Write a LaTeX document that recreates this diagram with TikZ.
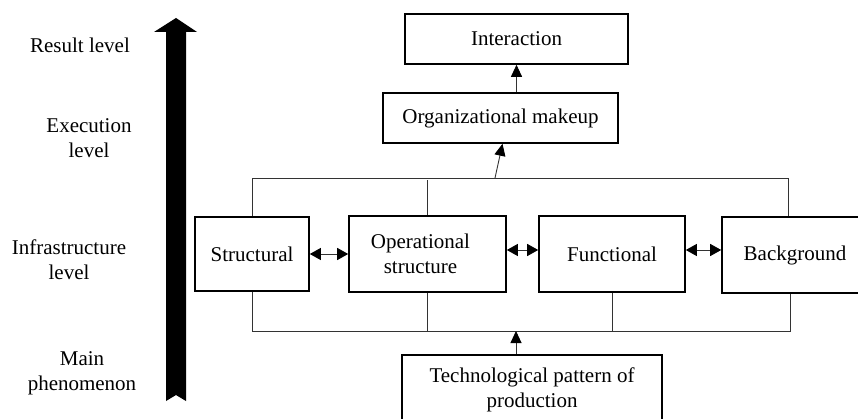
\documentclass[tikz,border=0pt]{standalone}
\usepackage{fontspec}
\setmainfont{Liberation Serif}
\usetikzlibrary{arrows.meta,calc}
\begin{document}
\begin{tikzpicture}[x=1pt,y=-1pt,
  txt/.style={font=\fontsize{21}{25}\selectfont, align=center, inner sep=0pt},
  box/.style={txt, draw=black, line width=1.6pt, rectangle},
  conn/.style={draw=black!80, line width=0.9pt},
  arr/.style={conn, -{Triangle[length=12pt,width=11pt,color=black]}},
  darr/.style={conn, {Triangle[length=11pt,width=12pt,color=black]}-{Triangle[length=11pt,width=12pt,color=black]}}]
\useasboundingbox (0,0) rectangle (858,419);
\clip (0,0) rectangle (858,419);
% level arrow
\fill[black] (166,401) -- (166,32) -- (154,32) -- (176,18) -- (197,32) -- (186,32) -- (186,401) -- (176,395) -- cycle;
% level labels
\node[txt] (l1) at (80,45) {Result level};
\node[txt] (l2) at (89,138) {Execution\\level};
\node[txt] (l3) at (69,260) {Infrastructure\\level};
\node[txt] (l4) at (82,373) {Main\\phenomenon};
% boxes
\node[box, minimum width=223, minimum height=50] (inter) at (516.5,39) {Interaction};
\node[box, minimum width=235, minimum height=50] (org) at (500.5,118) {Organizational makeup};
\node[box, minimum width=114, minimum height=74] (s) at (252,254) {Structural};
\node[box, minimum width=157, minimum height=76] (op) at (427.5,254) {Operational\hspace*{14pt}\\structure\hspace*{14pt}};
\node[box, minimum width=146, minimum height=76] (fu) at (612,254) {Functional};
\node[box, minimum width=146, minimum height=76] (bg) at (795,255) {Background};
\node[box, minimum width=260, minimum height=70] (tech) at (532,390) {Technological pattern of\\production};
% bus coordinates
\coordinate (tr) at (788,178);
\coordinate (br) at (790,331);
\coordinate (up) at (495,178);
\coordinate (tb) at (516,331);
% top bus
\draw[conn] (s.north) -- (s.north |- tr) -- (tr) -- (tr |- bg.north);
\draw[conn] (op.north) -- ($(op.north |- tr)+(0,2)$);
% bottom bus
\draw[conn] (s.south) -- (s.south |- br) -- (br) -- (br |- bg.south);
\draw[conn] (op.south) -- (op.south |- br);
\draw[conn] (fu.south) -- (fu.south |- br);
% arrows
\draw[arr] (up) -- ($(org.south)+(2,0)$);
\draw[arr] (org.north -| inter.south) -- (inter.south);
\draw[arr] (tech.north -| tb) -- (tb);
\draw[darr] (s.east) -- (op.west |- s.east);
\draw[darr] ($(op.east)+(0,-4)$) -- ($(fu.west)+(0,-4)$);
\draw[darr] ($(fu.east)+(0,-4)$) -- ($(bg.west)+(0,-5)$);
\end{tikzpicture}
\end{document}
